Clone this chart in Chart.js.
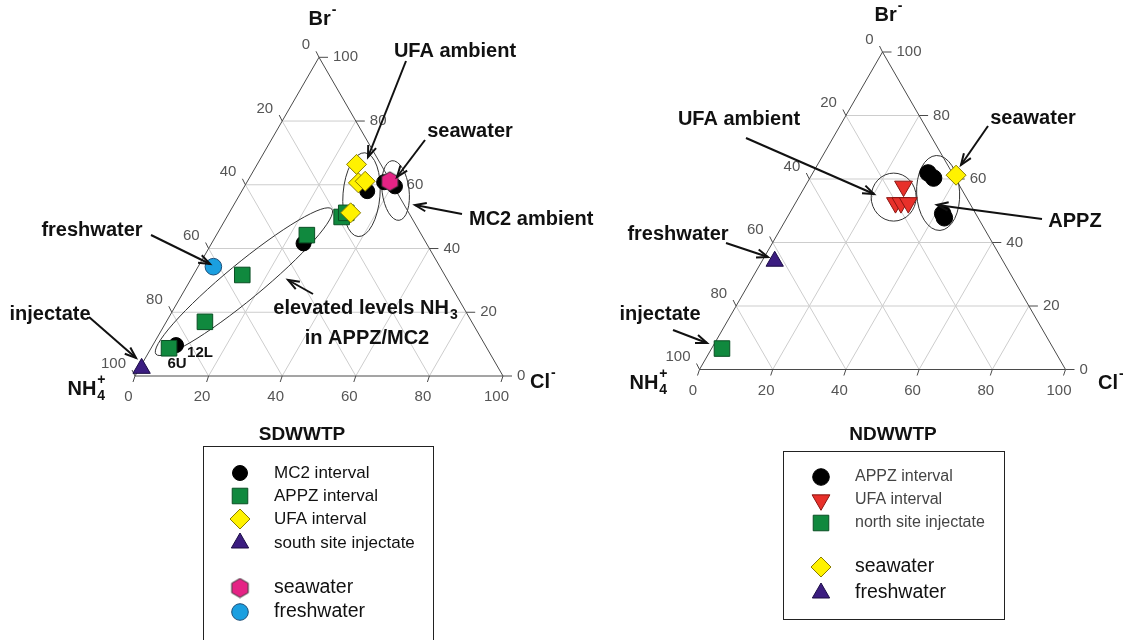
<!DOCTYPE html>
<html>
<head>
<meta charset="utf-8">
<script src="https://cdn.jsdelivr.net/npm/chart.js@4.4.1/dist/chart.umd.min.js"></script>
<style>
  html, body { margin: 0; padding: 0; background: #fff; }
  #wrap { position: relative; width: 1123px; height: 640px; overflow: hidden; }
  canvas { position: absolute; left: 0; top: 0; }
</style>
</head>
<body>
<div id="wrap">
  <canvas id="south" width="1123" height="640"></canvas>
  <canvas id="north" width="1123" height="640"></canvas>
</div>
<script>
// percentages of Cl- and Br-; NH4+ is what is left
const tickValues = [0, 20, 40, 60, 80, 100];

// SDWWTP (south site)
const sMc2Cl = [6.3, 25.0, 34.1, 37.3, 40.9];
const sMc2Br = [9.7, 41.6, 58.0, 60.8, 59.5];
const sAppzCl = [4.9, 10.5, 13.3, 24.6, 31.2, 31.8];
const sAppzBr = [8.7, 17.0, 31.7, 44.2, 49.9, 51.2];
const sUfaCl = [27.0, 30.4, 32.0, 33.0];
const sUfaBr = [66.4, 60.6, 61.1, 51.2];
const sInjCl = [0.6];
const sInjBr = [2.4];
const sSeaCl = [38.7];
const sSeaBr = [61.1];
const sFreshCl = [4.15];
const sFreshBr = [34.3];

// NDWWTP (north site)
const nAppzCl = [31.5, 33.8, 41.9, 43.0];
const nAppzBr = [61.9, 60.3, 49.1, 47.8];
const nUfaCl = [26.9, 27.3, 28.8, 30.8];
const nUfaBr = [57.7, 52.5, 52.5, 52.5];
const nInjCl = [2.84];
const nInjBr = [6.6];
const nSeaCl = [39.5];
const nSeaBr = [61.2];
const nFreshCl = [3.5];
const nFreshBr = [34.1];

const FONT = '"Liberation Sans", Arial, sans-serif';

// ternary -> x/y frame of the chart
function pts(cl, br) {
  return cl.map((c, i) => ({ x: c + br[i] / 2, y: br[i] }));
}

function hexagon(size, fill, stroke) {
  const c = document.createElement('canvas');
  c.width = size + 2; c.height = size + 2;
  const g = c.getContext('2d');
  const r = size / 2, cx = c.width / 2, cy = c.height / 2;
  g.beginPath();
  for (let i = 0; i < 6; i++) {
    const a = -Math.PI / 2 + i * Math.PI / 3;
    g.lineTo(cx + r * Math.cos(a), cy + r * Math.sin(a));
  }
  g.closePath();
  g.fillStyle = fill; g.fill();
  g.strokeStyle = stroke; g.lineWidth = 1; g.stroke();
  return c;
}

function line(ctx, a, b) {
  ctx.beginPath(); ctx.moveTo(a[0], a[1]); ctx.lineTo(b[0], b[1]); ctx.stroke();
}

function arrow(ctx, x1, y1, x2, y2) {
  line(ctx, [x1, y1], [x2, y2]);
  const a = Math.atan2(y2 - y1, x2 - x1), L = 12, w = 0.36;
  ctx.beginPath();
  ctx.moveTo(x2 - L * Math.cos(a - w), y2 - L * Math.sin(a - w));
  ctx.lineTo(x2, y2);
  ctx.lineTo(x2 - L * Math.cos(a + w), y2 - L * Math.sin(a + w));
  ctx.stroke();
}

// text with optional subscript / superscript stacked after it
function richText(ctx, l) {
  const size = l.size || 20;
  const small = Math.round(size * 0.68);
  ctx.font = 'bold ' + size + 'px ' + FONT;
  const wb = ctx.measureText(l.t).width;
  ctx.font = 'bold ' + small + 'px ' + FONT;
  const ws = Math.max(l.sub ? ctx.measureText(l.sub).width : 0, l.sup ? ctx.measureText(l.sup).width : 0);
  const total = wb + ws;
  let x = l.x;
  if ((l.align || 'center') === 'center') x -= total / 2;
  else if (l.align === 'right') x -= total;
  ctx.textAlign = 'left';
  ctx.textBaseline = 'middle';
  ctx.fillStyle = '#111';
  ctx.font = 'bold ' + size + 'px ' + FONT;
  ctx.fillText(l.t, x, l.y);
  ctx.font = 'bold ' + small + 'px ' + FONT;
  if (l.sub) ctx.fillText(l.sub, x + wb + 1, l.y + size * 0.38);
  if (l.sup) ctx.fillText(l.sup, x + wb + 1, l.y - size * 0.42);
}

function makeTernary(cfg) {
  return {
    id: 'ternary',
    beforeDatasetsDraw(chart) {
      const ctx = chart.ctx;
      const xs = chart.scales.x, ys = chart.scales.y;
      const P = (cl, br) => [xs.getPixelForValue(cl + br / 2), ys.getPixelForValue(br)];
      ctx.save();
      ctx.lineWidth = 1;
      ctx.strokeStyle = '#cdcdcd';
      tickValues.slice(1, -1).forEach(k => {
        line(ctx, P(0, k), P(100 - k, k));
        line(ctx, P(k, 0), P(k, 100 - k));
        line(ctx, P(100 - k, 0), P(0, 100 - k));
      });
      ctx.strokeStyle = '#4a4a4a';
      ctx.beginPath();
      [P(0, 0), P(100, 0), P(0, 100)].forEach(p => ctx.lineTo(p[0], p[1]));
      ctx.closePath();
      ctx.stroke();

      ctx.font = '15px ' + FONT;
      ctx.fillStyle = '#555';
      ctx.textBaseline = 'middle';
      tickValues.forEach(v => {
        // Cl- along the bottom
        let p = P(v, 0);
        line(ctx, p, [p[0] - 2, p[1] + 6]);
        ctx.textAlign = 'center';
        ctx.fillText(String(v), p[0] - 6.5, p[1] + 21);
        // Br- along the right side
        p = P(100 - v, v);
        line(ctx, p, [p[0] + 9, p[1]]);
        ctx.textAlign = 'left';
        ctx.fillText(String(v), p[0] + 14, p[1]);
        // NH4+ along the left side
        p = P(0, 100 - v);
        line(ctx, p, [p[0] - 3, p[1] - 6]);
        ctx.textAlign = 'right';
        ctx.fillText(String(v), p[0] - 9, p[1] - 12.5);
      });

      ctx.strokeStyle = '#333';
      cfg.ellipses.forEach(e => {
        const c = P(e.cl, e.br);
        ctx.beginPath();
        ctx.ellipse(c[0], c[1], e.rx, e.ry, e.rot, 0, Math.PI * 2);
        ctx.stroke();
      });
      ctx.restore();
    },
    afterDatasetsDraw(chart) {
      const ctx = chart.ctx;
      ctx.save();
      ctx.strokeStyle = '#111';
      ctx.lineWidth = 2;
      cfg.arrows.forEach(a => arrow(ctx, a[0], a[1], a[2], a[3]));
      cfg.labels.forEach(l => richText(ctx, l));

      // legend
      const lg = cfg.legend;
      ctx.lineWidth = 1;
      ctx.strokeStyle = '#222';
      ctx.strokeRect(lg.box[0], lg.box[1], lg.box[2], lg.box[3]);
      ctx.fillStyle = '#111';
      ctx.font = 'bold 19px ' + FONT;
      ctx.textAlign = 'center';
      ctx.textBaseline = 'middle';
      ctx.fillText(lg.title, lg.titleX, lg.titleY);
      chart.data.datasets.forEach((ds, i) => {
        const y = lg.rowY[i];
        ctx.fillStyle = ds.pointBackgroundColor;
        ctx.strokeStyle = ds.pointBorderColor;
        ctx.lineWidth = ds.pointBorderWidth;
        Chart.helpers.drawPoint(ctx, {
          pointStyle: ds.pointStyle, radius: ds.pointRadius,
          rotation: ds.pointRotation || 0, borderWidth: ds.pointBorderWidth
        }, lg.markerX, y);
        ctx.fillStyle = lg.colors[i];
        ctx.font = lg.sizes[i] + 'px ' + FONT;
        ctx.textAlign = 'left';
        ctx.fillText(ds.label, lg.textX, y);
      });
      ctx.restore();
    }
  };
}

function ds(label, cl, br, style, order) {
  return Object.assign({ label, data: pts(cl, br), order, clip: false }, style);
}

const blackDot = { pointStyle: 'circle', pointRadius: 7.5, pointBackgroundColor: '#000', pointBorderColor: '#000', pointBorderWidth: 1 };
const greenBox = { pointStyle: 'rect', pointRadius: 11, pointBackgroundColor: '#10893e', pointBorderColor: '#0a4f24', pointBorderWidth: 1 };
const yellowDia = { pointStyle: 'rectRot', pointRadius: 10, pointBackgroundColor: '#fff200', pointBorderColor: '#8a7c00', pointBorderWidth: 1 };
const purpleTri = { pointStyle: 'triangle', pointRadius: 10, pointBackgroundColor: '#3b1d80', pointBorderColor: '#1c0d45', pointBorderWidth: 1 };
const redTri = { pointStyle: 'triangle', pointRotation: 180, pointRadius: 10.3, pointBackgroundColor: '#e8302a', pointBorderColor: '#8a1410', pointBorderWidth: 1 };
const pinkHex = { pointStyle: hexagon(19, '#e52385', '#333'), pointRadius: 9, pointBackgroundColor: '#e52385', pointBorderColor: '#333', pointBorderWidth: 1 };
const blueDot = { pointStyle: 'circle', pointRadius: 8.3, pointBackgroundColor: '#1b9fe0', pointBorderColor: '#1a4d78', pointBorderWidth: 1 };

function ternaryChart(id, box, datasets, cfg) {
  return new Chart(document.getElementById(id), {
    type: 'scatter',
    data: { datasets },
    options: {
      responsive: false,
      animation: false,
      events: [],
      layout: { padding: { left: box.left, top: box.top, right: 1123 - box.right, bottom: 640 - box.bottom } },
      scales: {
        x: { type: 'linear', min: 0, max: 100, display: false },
        y: { type: 'linear', min: 0, max: 100, display: false }
      },
      plugins: { legend: { display: false }, tooltip: { enabled: false } }
    },
    plugins: [makeTernary(cfg)]
  });
}

ternaryChart('south', { left: 135, right: 503, top: 57.3, bottom: 376 }, [
  ds('MC2 interval', sMc2Cl, sMc2Br, blackDot, 6),
  ds('APPZ interval', sAppzCl, sAppzBr, greenBox, 5),
  ds('UFA interval', sUfaCl, sUfaBr, yellowDia, 4),
  ds('south site injectate', sInjCl, sInjBr, purpleTri, 3),
  ds('seawater', sSeaCl, sSeaBr, pinkHex, 2),
  ds('freshwater', sFreshCl, sFreshBr, blueDot, 1)
], {
  ellipses: [
    { cl: 33.1, br: 56.9, rx: 18.5, ry: 42, rot: 0.08 },
    { cl: 41.7, br: 58.2, rx: 13.5, ry: 30, rot: -0.12 },
    { cl: 14.8, br: 29.6, rx: 114, ry: 18, rot: -0.69 }
  ],
  arrows: [
    [406, 61, 368, 157], [425, 140, 397, 177], [462, 214, 415, 205],
    [151, 235, 210, 264], [89, 317, 136, 358], [313, 294, 288, 280]
  ],
  labels: [
    { t: 'UFA ambient', x: 455, y: 51 },
    { t: 'seawater', x: 470, y: 131 },
    { t: 'MC2 ambient', x: 469, y: 219, align: 'left' },
    { t: 'freshwater', x: 92, y: 230 },
    { t: 'injectate', x: 50, y: 314 },
    { t: 'elevated levels NH', sub: '3', x: 365, y: 308 },
    { t: 'in APPZ/MC2', x: 367, y: 338 },
    { t: '12L', x: 200, y: 353, size: 15 },
    { t: '6U', x: 177, y: 364, size: 15 },
    { t: 'Br', sup: '-', x: 322, y: 19 },
    { t: 'NH', sub: '4', sup: '+', x: 86, y: 389 },
    { t: 'Cl', sup: '-', x: 530, y: 382, align: 'left' }
  ],
  legend: {
    title: 'SDWWTP', titleX: 302, titleY: 435,
    box: [203.5, 446.5, 230, 210],
    markerX: 240, textX: 274,
    rowY: [473, 496, 519, 543, 588, 612],
    sizes: [17, 17, 17, 17, 19.5, 19.5],
    colors: ['#111', '#111', '#111', '#111', '#111', '#111']
  }
});

ternaryChart('north', { left: 699.5, right: 1065.5, top: 52, bottom: 369.5 }, [
  ds('APPZ interval', nAppzCl, nAppzBr, Object.assign({}, blackDot, { pointRadius: 8.3 }), 5),
  ds('UFA interval', nUfaCl, nUfaBr, redTri, 4),
  ds('north site injectate', nInjCl, nInjBr, greenBox, 3),
  ds('seawater', nSeaCl, nSeaBr, yellowDia, 2),
  ds('freshwater', nFreshCl, nFreshBr, purpleTri, 1)
], {
  ellipses: [
    { cl: 25.9, br: 54.3, rx: 22.5, ry: 24, rot: 0 },
    { cl: 37.4, br: 55.6, rx: 21.5, ry: 37.5, rot: -0.05 }
  ],
  arrows: [
    [746, 138, 874, 194], [988, 126, 961, 165], [1042, 219, 937, 205],
    [726, 243, 768, 257], [673, 330, 707, 343]
  ],
  labels: [
    { t: 'UFA ambient', x: 739, y: 119 },
    { t: 'seawater', x: 1033, y: 118 },
    { t: 'APPZ', x: 1075, y: 221 },
    { t: 'freshwater', x: 678, y: 234 },
    { t: 'injectate', x: 660, y: 314 },
    { t: 'Br', sup: '-', x: 888, y: 15 },
    { t: 'NH', sub: '4', sup: '+', x: 648, y: 383 },
    { t: 'Cl', sup: '-', x: 1098, y: 383, align: 'left' }
  ],
  legend: {
    title: 'NDWWTP', titleX: 893, titleY: 435,
    box: [783.5, 451.5, 221, 168],
    markerX: 821, textX: 855,
    rowY: [477, 500, 523, 567, 593],
    sizes: [16, 16, 16, 19.5, 19.5],
    colors: ['#444', '#444', '#444', '#111', '#111']
  }
});
</script>
</body>
</html>
